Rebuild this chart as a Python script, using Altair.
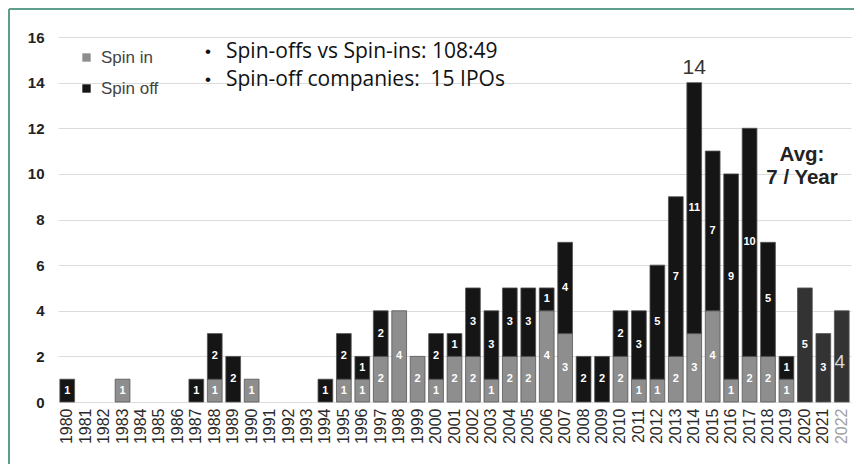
import altair as alt
import pandas as pd

years = [str(y) for y in range(1980, 2023)]
spin_in = [0, 0, 0, 1, 0, 0, 0, 0, 1, 0, 1, 0, 0, 0, 0, 1, 1, 2, 4, 2,
           1, 2, 2, 1, 2, 2, 4, 3, 0, 0, 2, 1, 1, 2, 3, 4, 1, 2, 2, 1,
           0, 0, 0]
spin_off = [1, 0, 0, 0, 0, 0, 0, 1, 2, 2, 0, 0, 0, 0, 1, 2, 1, 2, 0, 0,
            2, 1, 3, 3, 3, 3, 1, 4, 2, 2, 2, 3, 5, 7, 11, 7, 9, 10, 5, 1,
            5, 3, 4]
recent_years = ["2020", "2021", "2022"]

bullet_lines = ["Spin-offs vs Spin-ins: 108:49", "Spin-off companies:\u00a0 15 IPOs"]
avg_lines = ["Avg:", "7 / Year"]

rows = []
for yr, a, b in zip(years, spin_in, spin_off):
    if a > 0:
        rows.append({"year": yr, "series": "Spin in", "start": 0, "end": a, "val": a})
    if b > 0:
        s = "Spin off (recent)" if yr in recent_years else "Spin off"
        rows.append({"year": yr, "series": s, "start": a, "end": a + b, "val": b})
df = pd.DataFrame(rows)
df["mid"] = (df["start"] + df["end"]) / 2
df["label"] = df["val"].astype(str)

y_scale = alt.Scale(domain=[0, 16], nice=False)
x_plain = alt.X("year:O", sort=years)

x_enc = alt.X("year:O", sort=years, scale=alt.Scale(domain=years, paddingInner=0.2, paddingOuter=0.1),
              axis=alt.Axis(title=None, labelAngle=270, labelFontSize=16, labelFont="Liberation Sans",
                            labelColor={"condition": {"test": "datum.value == '2022'", "value": "#a0a0a0"}, "value": "#2a2a2a"},
                            labelPadding=6, domain=False, ticks=False))

base = alt.Chart(df)

bars = base.mark_bar(stroke="#555", strokeWidth=0.8).encode(
    x=x_enc,
    y=alt.Y("start:Q", scale=y_scale,
            axis=alt.Axis(title=None, values=list(range(0, 17, 2)), labelFontSize=15, labelFontWeight="bold",
                          labelFont="Liberation Sans", labelColor="#222", labelPadding=14,
                          domain=False, ticks=False, gridColor="#dcdcdc", gridWidth=1)),
    y2="end:Q",
    color=alt.Color("series:N",
                    scale=alt.Scale(domain=["Spin in", "Spin off", "Spin off (recent)"],
                                    range=["#8e8e8e", "#151515", "#333333"]),
                    legend=alt.Legend(title=None, values=["Spin in", "Spin off"], orient="none",
                                      legendX=20, legendY=12, symbolType="square", symbolSize=70,
                                      symbolStrokeWidth=0, labelFontSize=17, labelFont="Liberation Sans",
                                      labelColor="#444", rowPadding=13, symbolOffset=0, labelOffset=6)),
)

labels = base.transform_filter("datum.year != '2022'").mark_text(
    color="white", fontWeight="bold", fontSize=11, font="Liberation Sans", baseline="middle"
).encode(x=x_plain, y=alt.Y("mid:Q", scale=y_scale), text="label:N")

labels22 = base.transform_filter("datum.year == '2022'").mark_text(
    color="#d8d8d8", fontSize=19, font="Liberation Sans", baseline="middle", dy=6, dx=-2
).encode(x=x_plain, y=alt.Y("mid:Q", scale=y_scale), text="label:N")

peak_df = pd.DataFrame({"year": ["2014"], "total": [14], "txt": ["14"]})
peak = alt.Chart(peak_df).mark_text(fontSize=21, color="#333", font="Liberation Sans", baseline="bottom", dy=-5).encode(
    x=x_plain, y=alt.Y("total:Q", scale=y_scale), text="txt:N")


def one_text(txt, x, y, **kw):
    return alt.Chart(pd.DataFrame({"txt": [txt]})).mark_text(baseline="middle", **kw).encode(
        x=alt.value(x), y=alt.value(y), text="txt:N")


bullet_layers = []
for i, line in enumerate(bullet_lines):
    yy = 15 + 28 * i
    bullet_layers.append(one_text("•", 147, yy, align="left", fontSize=17, font="Liberation Sans", color="#111"))
    bullet_layers.append(one_text(line, 168, yy, align="left", fontSize=21, font="Open Sans", color="#111"))

avg_layers = [one_text(t, 744, 118 + 23 * i, align="center", fontSize=20.5, fontWeight="bold",
                       font="Liberation Sans", color="#222") for i, t in enumerate(avg_lines)]

frame_top = alt.Chart(pd.DataFrame({"k": [0]})).mark_rule(color="#5f9e8c", strokeWidth=2).encode(
    x=alt.value(-49), x2=alt.value(800), y=alt.value(-28))
frame_left = alt.Chart(pd.DataFrame({"k": [0]})).mark_rule(color="#5f9e8c", strokeWidth=2).encode(
    x=alt.value(-49), y=alt.value(-28), y2=alt.value(430))

chart = alt.layer(bars, labels, labels22, peak, *bullet_layers, *avg_layers, frame_top, frame_left).properties(
    width=793, height=365,
    autosize=alt.AutoSizeParams(type="none"),
    padding={"left": 50, "top": 29, "right": 3, "bottom": 62},
).configure_view(stroke=None).configure_legend(padding=0)

chart.save("out.html", embed_options={"renderer": "svg", "actions": False})
